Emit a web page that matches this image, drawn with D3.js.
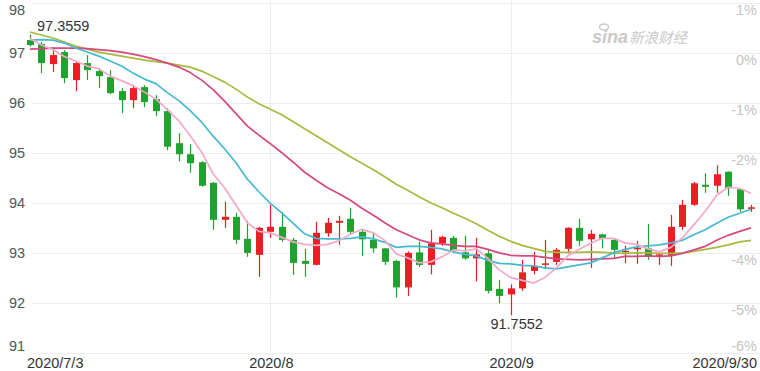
<!DOCTYPE html>
<html>
<head>
<meta charset="utf-8">
<script src="https://cdn.jsdelivr.net/npm/d3@7"></script>
<style>
html, body { margin:0; padding:0; background:#fff; }
svg { display:block; font-family:"Liberation Sans", Arial, sans-serif; }
</style>
</head>
<body>
<svg id="chart" width="760" height="371"></svg>
<script>
var dates = ['2020/7/3',
	'2020/7/6','2020/7/7','2020/7/8','2020/7/9','2020/7/10',
	'2020/7/13','2020/7/14','2020/7/15','2020/7/16','2020/7/17',
	'2020/7/20','2020/7/21','2020/7/22','2020/7/23','2020/7/24',
	'2020/7/27','2020/7/28','2020/7/29','2020/7/30','2020/7/31',
	'2020/8/3','2020/8/4','2020/8/5','2020/8/6','2020/8/7',
	'2020/8/10','2020/8/11','2020/8/12','2020/8/13','2020/8/14',
	'2020/8/17','2020/8/18','2020/8/19','2020/8/20','2020/8/21',
	'2020/8/24','2020/8/25','2020/8/26','2020/8/27','2020/8/28',
	'2020/8/31','2020/9/1','2020/9/2','2020/9/3','2020/9/4',
	'2020/9/7','2020/9/8','2020/9/9','2020/9/10','2020/9/11',
	'2020/9/14','2020/9/15','2020/9/16','2020/9/17','2020/9/18',
	'2020/9/21','2020/9/22','2020/9/23','2020/9/24','2020/9/25',
	'2020/9/28','2020/9/29','2020/9/30'];

var opens = [97.25,97.17,96.77,97.01,96.45,96.79,96.63,96.51,96.23,96.05,
	96.31,96.07,95.83,95.19,94.97,94.81,94.40,93.66,93.72,93.28,
	92.96,93.42,93.52,93.26,92.84,92.76,93.39,93.60,93.68,93.42,
	93.26,93.09,92.84,92.31,93.01,92.76,93.19,93.30,93.01,92.89,
	92.99,92.28,92.17,92.29,92.64,92.76,92.82,93.08,93.50,93.27,
	93.37,93.26,93.02,93.08,93.09,92.94,92.94,93.52,93.96,94.36,
	94.34,94.62,94.27,93.88];
var highs = [97.3559,97.21,97.11,97.05,96.81,96.95,96.69,96.65,96.29,96.35,
	96.35,96.15,95.89,95.39,95.17,94.83,94.41,94.02,93.80,93.64,
	93.52,93.96,93.82,93.30,93.08,93.62,93.70,93.74,93.90,93.46,
	93.40,93.10,92.86,93.03,93.22,93.46,93.34,93.34,93.34,93.30,
	93.08,92.46,92.37,92.86,93.02,93.26,93.10,93.51,93.68,93.46,
	93.38,93.29,93.14,93.24,93.58,92.98,93.76,94.06,94.42,94.59,
	94.75,94.63,94.28,93.96];
var lows = [97.12,96.59,96.61,96.39,96.23,96.45,96.29,96.17,95.79,95.89,
	95.91,95.73,95.05,94.83,94.60,94.32,93.46,93.50,93.18,92.92,
	92.52,93.30,93.22,92.56,92.52,92.75,93.32,93.16,93.36,92.94,
	93.00,92.76,92.11,92.14,92.72,92.57,93.14,93.01,92.86,92.43,
	92.19,91.99,91.7552,92.24,92.57,92.68,92.76,92.99,93.14,92.70,
	93.09,92.89,92.79,92.78,92.86,92.76,92.74,93.46,93.94,94.20,
	94.20,94.14,93.82,93.82];
var closes = [97.15,96.79,96.95,96.49,96.79,96.65,96.53,96.19,96.05,96.29,
	96.01,95.83,95.12,94.97,94.79,94.34,93.66,93.72,93.26,93.00,
	93.50,93.52,93.26,92.80,92.78,93.40,93.60,93.64,93.42,93.27,
	93.09,92.82,92.31,93.00,92.76,93.19,93.32,93.04,92.89,92.97,
	92.24,92.14,92.29,92.61,92.74,92.79,93.06,93.50,93.24,93.38,
	93.28,93.06,93.04,93.10,92.94,92.97,93.52,93.96,94.39,94.32,
	94.57,94.29,93.87,93.91];

var ma5 = [97.28,97.15,97.06,96.92,96.83,96.73,96.68,96.53,96.44,96.34,
	96.21,96.07,95.86,95.64,95.34,95.01,94.58,94.30,93.95,93.60,
	93.43,93.40,93.31,93.22,93.17,93.15,93.17,93.24,93.37,93.47,
	93.40,93.25,92.98,92.90,92.80,92.82,92.92,93.06,93.04,93.08,
	92.89,92.66,92.51,92.45,92.40,92.51,92.70,92.94,93.07,93.19,
	93.29,93.29,93.20,93.17,93.08,93.02,93.11,93.30,93.56,93.83,
	94.15,94.31,94.29,94.19];
var ma10 = [97.25,97.26,97.25,97.19,97.09,97.01,96.93,96.83,96.73,96.59,
	96.47,96.38,96.20,96.04,95.84,95.61,95.33,95.08,94.80,94.47,
	94.22,93.99,93.80,93.59,93.38,93.29,93.28,93.28,93.29,93.32,
	93.28,93.21,93.11,93.13,93.13,93.11,93.08,93.02,92.97,92.94,
	92.85,92.79,92.78,92.75,92.74,92.70,92.68,92.72,92.76,92.80,
	92.90,93.00,93.07,93.12,93.14,93.16,93.20,93.25,93.36,93.46,
	93.59,93.71,93.79,93.87];
var ma20 = [97.07,97.08,97.09,97.09,97.09,97.08,97.06,97.04,97.01,96.97,
	96.92,96.86,96.79,96.71,96.60,96.45,96.26,96.03,95.78,95.53,
	95.35,95.18,95.00,94.81,94.61,94.45,94.30,94.18,94.05,93.89,
	93.75,93.60,93.46,93.36,93.26,93.20,93.18,93.15,93.13,93.13,
	93.07,93.00,92.95,92.94,92.94,92.91,92.88,92.87,92.86,92.87,
	92.88,92.89,92.93,92.93,92.94,92.93,92.94,92.99,93.06,93.13,
	93.25,93.35,93.43,93.50];
var ma30 = [97.41,97.35,97.29,97.21,97.13,97.07,97.01,96.97,96.93,96.89,
	96.85,96.82,96.79,96.75,96.71,96.63,96.52,96.41,96.27,96.11,
	95.98,95.87,95.76,95.62,95.48,95.34,95.20,95.06,94.92,94.79,
	94.66,94.52,94.37,94.25,94.12,94.00,93.90,93.79,93.69,93.58,
	93.45,93.33,93.23,93.15,93.09,93.03,93.01,93.01,93.01,93.02,
	93.01,93.00,92.99,93.00,93.00,92.99,92.99,93.00,93.03,93.07,
	93.11,93.16,93.22,93.25];

var yTicks = [98, 97, 96, 95, 94, 93, 92, 91];
var pctLabels = ['1%', '0%', '-1%', '-2%', '', '-4%', '-5%', '-6%'];
var xTickDates = ['2020/7/3', '2020/8/3', '2020/9/1', '2020/9/30'];
var xTickLabels = ['2020/7/3', '2020/8', '2020/9', '2020/9/30'];
var monthStarts = ['2020/8/3', '2020/9/1'];

var svg = d3.select('#chart');

var x = d3.scalePoint().domain(dates).range([30, 751]);
var y = d3.scaleLinear().domain([91, 98]).range([353, 2.5]);

var colors = { up: '#ea1f23', down: '#20a22e', ma5: '#f3a9c9', ma10: '#45b9cf', ma20: '#d5497d', ma30: '#a9b93f' };

// grid
svg.append('g').selectAll('line.h')
	.data(yTicks).enter().append('line')
	.attr('x1', 32).attr('x2', 760)
	.attr('y1', function(d){ return Math.round(y(d)) + 0.5; })
	.attr('y2', function(d){ return Math.round(y(d)) + 0.5; })
	.attr('stroke', '#ededed').attr('stroke-width', 1);

svg.append('g').selectAll('line.v')
	.data(monthStarts).enter().append('line')
	.attr('x1', function(d){ return Math.round(x(d)) + 0.5; })
	.attr('x2', function(d){ return Math.round(x(d)) + 0.5; })
	.attr('y1', 0).attr('y2', 353)
	.attr('stroke', '#ededed').attr('stroke-width', 1);

// watermark
var wm = svg.append('g').attr('fill', '#c9c9c9');
wm.append('text').attr('x', 592).attr('y', 43)
	.attr('font-size', 18).attr('font-weight', 'bold').attr('font-style', 'italic')
	.text('sina');
wm.append('ellipse').attr('cx', 604).attr('cy', 27).attr('rx', 4.5).attr('ry', 3)
	.attr('fill', 'none').attr('stroke', '#c9c9c9').attr('stroke-width', 1.5);
wm.append('text').attr('x', 629).attr('y', 43)
	.attr('font-size', 14.5).attr('font-style', 'italic')
	.attr('font-family', '"Noto Sans CJK SC", sans-serif')
	.text('新浪财经');

// axis labels
svg.append('g').selectAll('text')
	.data(yTicks).enter().append('text')
	.attr('x', 9)
	.attr('y', function(d){ return Math.max(15, Math.min(351, y(d) + 5)); })
	.attr('font-size', 14.5).attr('fill', '#555')
	.text(function(d){ return d; });

svg.append('g').selectAll('text')
	.data(yTicks).enter().append('text')
	.attr('x', 757).attr('text-anchor', 'end')
	.attr('y', function(d){ return Math.min(351, y(d) + 12.5); })
	.attr('font-size', 14.5).attr('fill', '#c4c4c4')
	.text(function(d, i){ return pctLabels[i]; });

svg.append('g').selectAll('text')
	.data(xTickDates).enter().append('text')
	.attr('x', function(d, i){
		if(i == 0) return 27;
		if(i == xTickDates.length - 1) return 757;
		return x(d) + 1;
	})
	.attr('y', 367.5)
	.attr('text-anchor', function(d, i){
		return i == 0 ? 'start' : (i == xTickDates.length - 1 ? 'end' : 'middle');
	})
	.attr('font-size', 14.5).attr('fill', '#333')
	.text(function(d, i){ return xTickLabels[i]; });

// candles
var candles = svg.append('g').selectAll('g')
	.data(dates).enter().append('g');

candles.append('line')
	.attr('x1', function(d){ return Math.round(x(d)) + 0.5; })
	.attr('x2', function(d){ return Math.round(x(d)) + 0.5; })
	.attr('y1', function(d, i){ return y(highs[i]); })
	.attr('y2', function(d, i){ return y(lows[i]); })
	.attr('stroke', function(d, i){ return closes[i] >= opens[i] ? colors.up : colors.down; })
	.attr('stroke-width', 1.2);

candles.append('rect')
	.attr('x', function(d){ return Math.round(x(d)) - 3; })
	.attr('width', 7)
	.attr('y', function(d, i){ return y(Math.max(opens[i], closes[i])); })
	.attr('height', function(d, i){ return Math.max(1.5, Math.abs(y(opens[i]) - y(closes[i]))); })
	.attr('fill', function(d, i){ return closes[i] >= opens[i] ? colors.up : colors.down; });

// moving averages
var mkline = d3.line()
	.x(function(d, i){ return x(dates[i]); })
	.y(function(d){ return y(d); });

[['ma30', ma30], ['ma20', ma20], ['ma10', ma10], ['ma5', ma5]].forEach(function(s){
	svg.append('path')
		.attr('d', mkline(s[1]))
		.attr('fill', 'none')
		.attr('stroke', colors[s[0]])
		.attr('stroke-width', 1.7)
		.attr('stroke-linejoin', 'round');
});

// high / low marks
var hi = d3.maxIndex(highs), lo = d3.minIndex(lows);
svg.append('text')
	.attr('x', x(dates[hi]) + 7).attr('y', 31)
	.attr('font-size', 14.5).attr('fill', '#333')
	.text(d3.format('.4f')(highs[hi]));
svg.append('text')
	.attr('x', x(dates[lo]) + 6).attr('y', y(lows[lo]) + 14)
	.attr('text-anchor', 'middle')
	.attr('font-size', 14.5).attr('fill', '#333')
	.text(d3.format('.4f')(lows[lo]));
</script>
</body>
</html>
